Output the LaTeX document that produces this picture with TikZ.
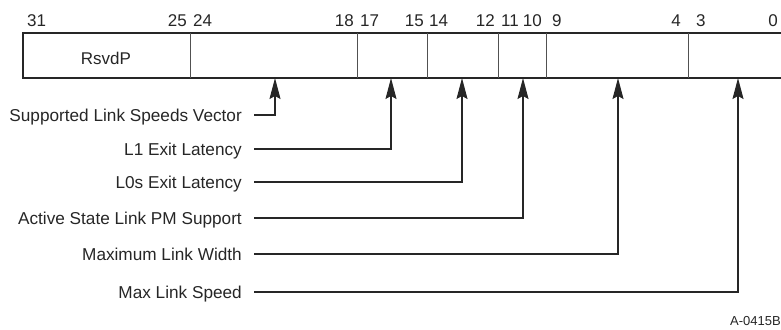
\documentclass[tikz,border=0pt]{standalone}
\usepackage{fontspec}
\setmainfont{Liberation Sans}
\usetikzlibrary{arrows.meta}
\definecolor{ink}{HTML}{262626}
\tikzset{
  lbl/.style={anchor=east, inner xsep=12pt, inner ysep=0pt, text height=12.2pt, text depth=0pt,
    font=\fontsize{17.2}{20}\selectfont, text=ink},
  bitnum/.style={anchor=base, inner sep=0pt, font=\fontsize{17}{20}\selectfont, text=ink},
  frame/.style={draw=ink, line width=1.5pt},
  divider/.style={draw=ink!80, line width=1pt},
  conn/.style={draw=ink, line width=1.3pt, -{Stealth[length=21pt,width=11pt,inset=3pt]}},
}
\begin{document}
\begin{tikzpicture}[x=1pt,y=-1pt]
\useasboundingbox (0,0) rectangle (781,329);
\clip (0,0) rectangle (781,329);
% register box
\draw[frame] (800,33) -- (23,33) -- (23,78) -- (800,78);
\foreach \x in {190,357,427,498,546,688}{
  \draw[divider] (\x,33) -- (\x,78);
}
\node[bitnum, anchor=base] (rsvd) at (106,64) {RsvdP};
% bit numbers
\node[bitnum, anchor=base west] (b31) at (27,26.5) {31};
\node[bitnum, anchor=base east] (b25) at (187,26.5) {25};
\node[bitnum, anchor=base west] (b24) at (193,26.5) {24};
\node[bitnum, anchor=base east] (b18) at (354,26.5) {18};
\node[bitnum, anchor=base west] (b17) at (360,26.5) {17};
\node[bitnum, anchor=base east] (b15) at (424,26.5) {15};
\node[bitnum, anchor=base west] (b14) at (429,26.5) {14};
\node[bitnum, anchor=base east] (b12) at (495,26.5) {12};
\node[bitnum, anchor=base west] (b11) at (501,26.5) {11};
\node[bitnum, anchor=base east] (b10) at (542,26.5) {10};
\node[bitnum, anchor=base west] (b9) at (552,26.5) {9};
\node[bitnum, anchor=base east] (b4) at (681,26.5) {4};
\node[bitnum, anchor=base west] (b3) at (696,26.5) {3};
\node[bitnum, anchor=base east] (b0) at (778,26.5) {0};
% arrow targets on the bottom edge
\coordinate (t1) at (275,78);
\coordinate (t2) at (391,78);
\coordinate (t3) at (462,78);
\coordinate (t4) at (523,78);
\coordinate (t5) at (618,78);
\coordinate (t6) at (738,78);
% labels
\node[lbl] (l1) at (254,115) {Supported Link Speeds Vector};
\node[lbl] (l2) at (254,149) {L1 Exit Latency};
\node[lbl] (l3) at (254,182) {L0s Exit Latency};
\node[lbl] (l4) at (254,218) {Active State Link PM Support};
\node[lbl] (l5) at (254,254) {Maximum Link Width};
\node[lbl] (l6) at (254,292) {Max Link Speed};
\draw[conn] (l1.east) -| (t1);
\draw[conn] (l2.east) -| (t2);
\draw[conn] (l3.east) -| (t3);
\draw[conn] (l4.east) -| (t4);
\draw[conn] (l5.east) -| (t5);
\draw[conn] (l6.east) -| (t6);
\node[anchor=base east, inner sep=0pt, font=\fontsize{13}{15}\selectfont, text=ink] (fig) at (781,325) {A-0415B};
\end{tikzpicture}
\end{document}
